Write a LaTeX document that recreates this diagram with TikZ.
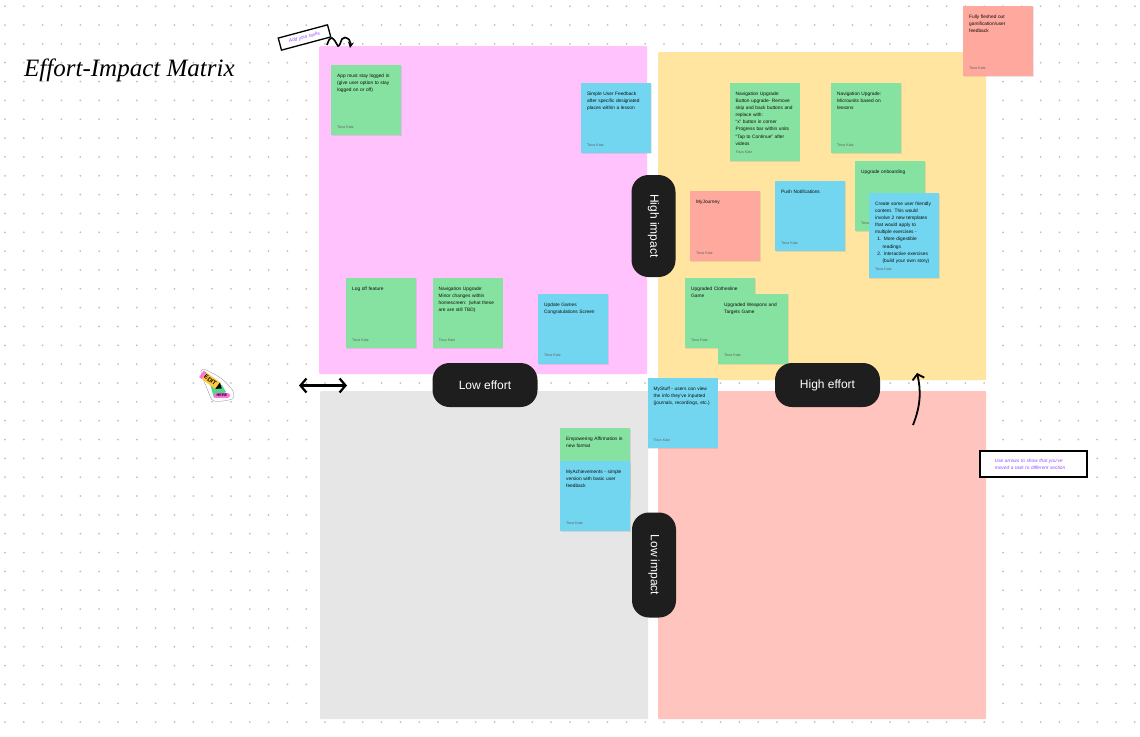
\documentclass[tikz,border=0pt]{standalone}
\usepackage{fontspec}
\setmainfont{Liberation Sans}
\newfontfamily\titlefont{Liberation Serif}
\usetikzlibrary{arrows.meta, shadows}

\definecolor{quadpink}{HTML}{FFC2FC}
\definecolor{quadyellow}{HTML}{FFE5A0}
\definecolor{quadgray}{HTML}{E6E6E6}
\definecolor{quadrose}{HTML}{FFC4BE}
\definecolor{notegreen}{HTML}{86E2A1}
\definecolor{noteblue}{HTML}{72D6F0}
\definecolor{notesalmon}{HTML}{FFA89D}
\definecolor{pilldark}{HTML}{1E1E1E}
\definecolor{hintpurple}{HTML}{9747FF}
\definecolor{stickerpink}{HTML}{FF6FE0}
\definecolor{stickeryellow}{HTML}{FFC93C}
\definecolor{stickergreen}{HTML}{55D68A}

\tikzset{
  quad/.style={anchor=north west, minimum width=328, minimum height=328, inner sep=0, rounded corners=1pt},
  notebyline/.style={anchor=base west, inner sep=0, xshift=6pt, yshift=7pt, text=black!60,
    font=\fontsize{3.8}{4.5}\selectfont},
  sticky/.style={anchor=north west, inner xsep=6pt, inner ysep=8.5pt, text width=58pt,
    text height=4pt, text depth=49pt, align=left, text=black!95,
    font=\fontsize{4.8}{7.05}\selectfont,
    drop shadow={shadow xshift=0.4pt, shadow yshift=-1pt, opacity=0.18},
    label={[notebyline]south west:Tova Katz}},
  pill/.style={fill=pilldark, text=white, rounded corners=17pt, minimum width=105, minimum height=44,
    inner sep=0, font=\fontsize{12}{14}\selectfont},
  hint/.style={text=hintpurple, font=\fontsize{4.8}{7}\selectfont\itshape, align=left},
}

\begin{document}
\begin{tikzpicture}[x=1pt, y=-1pt, >=Stealth]
  \useasboundingbox (0,0) rectangle (1140,736);
  \fill[white] (0,0) rectangle (1140,736);
  % dot grid
  \foreach \col in {0,...,60} {
    \foreach \row in {0,...,38} {
      \fill[black!25] ({5+18.83*\col},{6.2+18.84*\row}) circle(1pt);
    }
  }

  % quadrants
  \node[quad, fill=quadpink] (quadlowhigh) at (319,46) {};
  \node[quad, fill=quadyellow] (quadhighhigh) at (658,52) {};
  \node[quad, fill=quadgray] (quadlowlow) at (320,391) {};
  \node[quad, fill=quadrose] (quadhighlow) at (658,391) {};

  % low effort, high impact
  \node[sticky, fill=notegreen] (stayloggedin) at (331,65) {App must stay logged in\\(give user option to stay\\logged on or off)};
  \node[sticky, fill=noteblue] (simplefeedback) at (581,83) {Simple User Feedback\\after specific designated\\places within a lesson};
  \node[sticky, fill=notegreen] (logoff) at (346,278) {Log off feature};
  \node[sticky, fill=notegreen] (minorchanges) at (432.5,278) {Navigation Upgrade:\\Minor changes within\\homescreen: (what these\\are are still TBD)};
  \node[sticky, fill=noteblue] (updategames) at (538,293.5) {Update Games\\Congratulations Screen};

  % high effort, high impact
  \node[sticky, fill=notegreen, text depth=56.5pt] (buttonupgrade) at (729.5,83) {Navigation Upgrade:\\Button upgrade- Remove\\skip and back buttons and\\replace with:\\``x'' button in corner\\Progress bar within units\\``Tap to Continue'' after\\videos};
  \node[sticky, fill=notegreen] (microunits) at (831,83) {Navigation Upgrade:\\Microunits based on\\lessons};
  \node[sticky, fill=notegreen] (onboarding) at (855,161) {Upgrade onboarding};
  \node[sticky, fill=noteblue, text depth=63.5pt] (friendlycontent) at (869,193) {Create some user friendly\\content. This would\\involve 2 new templates\\that would apply to\\multiple exercises -\\\hspace*{2.2pt}1.\hspace{2.5pt}More digestible\\\hspace*{7.4pt}readings\\\hspace*{2.2pt}2.\hspace{2.5pt}Interactive exercises\\\hspace*{7.4pt}(build your own story)};
  \node[sticky, fill=notesalmon] (myjourney) at (690,191) {MyJourney};
  \node[sticky, fill=noteblue] (pushnotes) at (775,181) {Push Notifications};
  \node[sticky, fill=notegreen] (clothesline) at (685,278) {Upgraded Clothesline\\Game};
  \node[sticky, fill=notegreen] (weapons) at (718,293.5) {Upgraded Weapons and\\Targets Game};
  \node[sticky, fill=notesalmon] (gamification) at (963,6) {Fully fleshed out\\gamification/user\\feedback};

  % low impact
  \node[sticky, fill=noteblue] (mystuff) at (647.5,378) {MyStuff - users can view\\the info they've inputted\\(journals, recordings, etc.)};
  \node[sticky, fill=notegreen] (affirmation) at (560,428) {Empowering Affirmation in\\new format};
  \node[sticky, fill=noteblue] (achievements) at (560,461) {MyAchievements - simple\\version with basic user\\feedback};

  % axis labels
  \node[pill] (loweffort) at (485,385) {Low effort};
  \node[pill] (higheffort) at (827.5,385) {High effort};
  \node[pill, rotate=-90, minimum width=102] (highimpact) at (653.5,226) {High impact};
  \node[pill, rotate=-90] (lowimpact) at (654,565) {Low impact};

  % title
  \node[anchor=west, inner sep=0, font=\fontsize{25}{27}\selectfont\titlefont\itshape] (matrixtitle) at (24,70) {Effort-Impact Matrix};

  % hints
  \node[draw=black, line width=1.3pt, fill=white, rotate=15, minimum width=51, minimum height=12.5,
    inner sep=0, text=hintpurple, font=\fontsize{4.8}{6}\selectfont\itshape] (addtasks) at (304.5,37.5) {Add your tasks};
  \coordinate (squigglestart) at (327,45);
  \coordinate (squiggleend) at (350,48);
  \draw[-{Stealth[length=6pt,width=6pt]}, line width=1.6pt] plot[smooth] coordinates {(squigglestart) (329,40) (332,38)
    (335,41) (338,46) (340,44) (342,39) (345,37.5) (349,39.5) (350.5,43) (squiggleend)};
  \node[draw=black, line width=1.6pt, fill=white, anchor=north west, minimum width=107, minimum height=26,
    inner xsep=0, text width=77pt, hint] (movehint) at (979,450) {Use arrows to show that you've\\moved a task to different section};

  % moved arrows
  \coordinate (leftend) at (299,385.5);
  \coordinate (rightend) at (347,385.5);
  \draw[{Straight Barb[length=6pt,width=14pt]}-{Straight Barb[length=6pt,width=14pt]}, line width=2.2pt] (leftend) -- (rightend);
  \coordinate (movestart) at (913,425);
  \coordinate (moveend) at (917,373);
  \draw[-{Straight Barb[length=5pt,width=12pt]}, line width=1.8pt] (movestart) .. controls (921,405) and (921,390) .. (moveend);

  % edit sticker
  \draw[black!45, line width=0.3pt, fill=white] plot[smooth cycle] coordinates {(201,372) (206,370) (222,379) (233,391) (232,399) (214,401) (208,391)};
  \fill[stickergreen] (210,384) -- (222,385) -- (226,392) -- (214,398) -- cycle;
  \begin{scope}[shift={(212,381.5)}, rotate=-36]
    \fill[stickerpink] (-13,-4) rectangle (-9.5,4);
    \fill[stickeryellow] (-9.5,-4) rectangle (7,4);
    \fill[black] (7,-4) -- (12,0) -- (7,4) -- cycle;
    \node[rotate=-36, inner sep=0, font=\fontsize{6}{7}\selectfont\bfseries] (editword) at (-2,0) {EDIT};
  \end{scope}
  \node[fill=stickerpink, rounded corners=1.5pt, inner xsep=2.5pt, inner ysep=1pt, font=\fontsize{3.8}{5}\selectfont\bfseries] (hereword) at (222,395.5) {HERE};
\end{tikzpicture}
\end{document}
